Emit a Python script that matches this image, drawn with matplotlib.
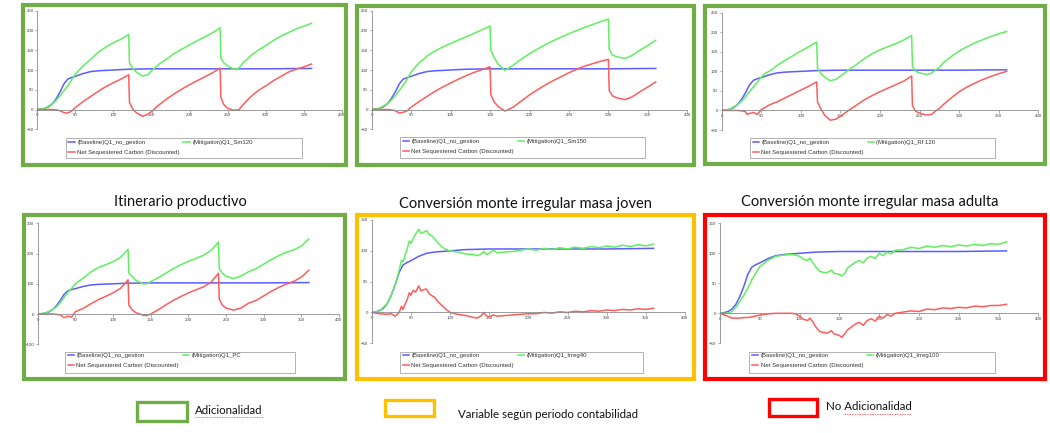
import matplotlib.pyplot as plt
from matplotlib.patches import Rectangle
from matplotlib.lines import Line2D

# Baseline (same no-management run in every panel)
base_x = [0, 5, 10, 15, 20, 25, 30, 35, 40, 45, 50, 60, 70, 80, 90, 100, 120, 150, 200, 250, 300, 360]
base_y = [0, 1, 3, 7, 15, 28, 45, 65, 77, 81, 84, 91, 96, 98, 99, 100, 102, 103, 103, 103, 103, 104]

# Q1_Sm120
sm120_x = [0, 10, 20, 25, 30, 35, 40, 45, 50, 60, 70, 80, 90, 100, 110, 120, 121, 125, 130, 138,
           145, 150, 160, 170, 180, 190, 200, 210, 220, 230, 240, 241, 245, 250, 258, 265, 270, 280, 290, 300,
           310, 320, 330, 340, 350, 360]
sm120_mit = [0, 3, 15, 24, 35, 48, 60, 75, 90, 110, 127, 145, 158, 169, 178, 190, 118, 105, 95, 85,
             88, 98, 115, 128, 142, 153, 164, 174, 184, 194, 207, 130, 118, 110, 102, 105, 118, 136, 150, 162,
             175, 186, 195, 204, 211, 218]
sm120_net = [0, 0, 0, -1, -3, -8, -9, -4, 5, 20, 33, 46, 58, 68, 77, 88, 18, 2, -8, -17,
             -12, -5, 12, 27, 40, 52, 63, 73, 83, 93, 105, 30, 12, 3, -2, 0, 12, 32, 48, 60,
             73, 84, 95, 102, 108, 115]

# Q1_Sm150
sm150_x = [0, 10, 20, 25, 30, 35, 40, 45, 50, 60, 70, 80, 90, 100, 110, 120, 130, 140, 150, 151,
           155, 160, 169, 180, 190, 200, 210, 220, 230, 240, 250, 260, 270, 280, 290, 300, 301, 305, 310, 321,
           330, 340, 350, 360]
sm150_mit = [0, 3, 15, 24, 35, 48, 62, 77, 95, 118, 135, 148, 158, 167, 176, 184, 193, 202, 211, 150,
             132, 115, 99, 113, 128, 141, 153, 164, 174, 183, 192, 200, 208, 215, 222, 229, 152, 138, 134, 129,
             137, 150, 162, 175]
sm150_net = [0, 0, 0, -1, -3, -9, -7, -3, 6, 20, 33, 46, 57, 67, 77, 86, 94, 101, 108, 38,
             20, 8, -4, 7, 22, 37, 50, 62, 73, 83, 93, 102, 110, 116, 122, 127, 48, 35, 30, 25,
             32, 45, 57, 70]

# Q1_Rf 120
rf120_x = [0, 10, 20, 25, 30, 32, 35, 40, 45, 50, 55, 60, 70, 80, 90, 100, 110, 120, 121, 125,
           130, 137, 145, 150, 155, 160, 170, 180, 190, 200, 210, 220, 230, 240, 241, 245, 250, 259, 265, 270,
           275, 280, 290, 300, 310, 320, 330, 340, 350, 360]
rf120_mit = [0, 3, 15, 24, 35, 40, 48, 60, 72, 85, 95, 100, 115, 128, 140, 152, 163, 175, 108, 95,
             85, 76, 80, 88, 95, 103, 117, 132, 145, 155, 163, 171, 180, 192, 112, 100, 96, 92, 95, 103,
             110, 122, 138, 152, 163, 173, 181, 189, 196, 202]
rf120_net = [0, 0, 0, -1, -3, -10, -8, -5, -10, 2, 8, 14, 22, 32, 42, 52, 62, 73, 22, 5,
             -12, -25, -22, -15, -8, 0, 13, 27, 38, 48, 57, 66, 75, 88, 12, -2, -7, -12, -10, -2,
             5, 15, 32, 48, 60, 70, 79, 87, 94, 100]

# Q1_PC
pc_x = [0, 10, 20, 25, 30, 35, 40, 45, 50, 60, 70, 80, 90, 100, 110, 120, 121, 125, 130, 140,
        145, 150, 160, 170, 180, 190, 200, 210, 220, 230, 240, 241, 245, 250, 260, 270, 280, 290, 300, 310,
        320, 330, 340, 350, 360]
pc_mit = [0, 3, 15, 24, 38, 55, 72, 85, 100, 118, 138, 153, 163, 173, 187, 214, 135, 125, 112, 100,
          100, 107, 120, 135, 150, 163, 174, 184, 194, 210, 238, 150, 135, 125, 117, 126, 140, 150, 165, 180,
          193, 204, 212, 225, 248]
pc_net = [0, 0, 0, -1, -3, -12, -7, -10, 8, 18, 33, 47, 58, 70, 85, 113, 30, 15, 5, -4,
          -5, 0, 14, 30, 45, 58, 70, 80, 90, 105, 135, 50, 30, 20, 13, 20, 36, 45, 60, 75,
          88, 99, 108, 122, 145]

# Q1_Irreg40
irr40_x = [0, 10, 20, 25, 30, 35, 38, 40, 42, 45, 48, 50, 53, 56, 60, 63, 66, 70, 73, 77,
           80, 85, 90, 95, 100, 110, 120, 130, 135, 140, 143, 147, 150, 155, 160, 170, 180, 190, 200, 210,
           220, 230, 240, 250, 260, 270, 280, 290, 300, 310, 320, 330, 340, 350, 360]
irr40_mit = [0, 2, 15, 28, 45, 68, 85, 82, 90, 102, 116, 112, 120, 127, 135, 128, 130, 133, 127, 124,
             120, 112, 106, 102, 100, 98, 95, 94, 92, 95, 99, 94, 96, 101, 97, 98, 99, 101, 103, 101,
             104, 102, 105, 103, 106, 104, 107, 105, 108, 106, 109, 107, 110, 108, 111]
irr40_net = [0, -2, -3, -2, -6, 0, 10, 5, 12, 20, 32, 28, 36, 33, 43, 35, 37, 38, 31, 27,
             25, 17, 11, 5, 0, -3, -5, -8, -9, -5, 0, -6, -7, -4, -6, -5, -4, -3, -2, -2,
             0, -1, 1, 0, 2, 1, 3, 2, 4, 3, 5, 4, 6, 5, 7]

# Q1_Irreg100
irr100_x = [0, 10, 15, 20, 25, 30, 35, 40, 50, 60, 70, 80, 90, 95, 100, 105, 110, 113, 117, 120,
            125, 130, 135, 140, 143, 150, 153, 157, 160, 165, 170, 175, 180, 185, 190, 195, 200, 205, 210, 215,
            220, 230, 240, 250, 260, 270, 280, 290, 300, 310, 320, 330, 340, 350, 360]
irr100_mit = [0, 0, 3, 10, 20, 30, 42, 56, 78, 88, 95, 97, 98, 97, 95, 90, 88, 92, 84, 78,
              70, 68, 68, 72, 67, 65, 62, 67, 75, 80, 85, 88, 84, 92, 95, 91, 100, 96, 102, 99,
              105, 106, 110, 108, 112, 110, 113, 111, 114, 112, 115, 113, 116, 115, 119]
irr100_net = [0, -5, -8, -8, -8, -7, -7, -6, -3, -1, 0, 0, 0, -1, -5, -10, -12, -8, -15, -22,
              -30, -32, -33, -29, -34, -37, -40, -34, -28, -23, -18, -15, -20, -12, -9, -13, -5, -8, -2, -5,
              0, 2, 4, 3, 7, 6, 9, 8, 10, 9, 12, 11, 13, 13, 15]

base_label = '(Baseline)Q1_no_gestion'
net_label = 'Net Sequestered Carbon (Discounted)'
titles = ['Itinerario productivo', 'Conversión monte irregular masa joven',
          'Conversión monte irregular masa adulta']
key_labels = ['Adicionalidad', 'Variable según periodo contabilidad', 'No Adicionalidad']

W, H = 1050, 433
fig = plt.figure(figsize=(10.5, 4.33), dpi=100)

def fig_rect(x0, y0, x1, y1):
    # pixel box (from top-left) -> figure fraction rect
    return [x0 / W, 1 - y1 / H, (x1 - x0) / W, (y1 - y0) / H]

def add_box(x0, y0, x1, y1, color, lw):
    r = fig_rect(x0, y0, x1, y1)
    fig.patches.append(Rectangle((r[0], r[1]), r[2], r[3], transform=fig.transFigure,
                                 fill=False, edgecolor=color, linewidth=lw))

GREEN, YELLOW, RED = '#70ad47', '#ffc000', '#ff0000'
C_BASE, C_MIT, C_NET = '#5c5cff', '#5ef05e', '#ff5c5c'

# (mit x, mit y, net y, mitigation label, axes px box, ylim, yticks, legend box px, frame px, frame colour)
panels = [
    (sm120_x, sm120_mit, sm120_net, '(Mitigation)Q1_Sm120', (37.3, 10.7, 342, 129.3), (-50, 250),
     [-50, 0, 50, 100, 150, 200, 250], (65.7, 138.3, 301.7, 158.3), (23, 5.3, 345.5, 164.7), GREEN),
    (sm150_x, sm150_mit, sm150_net, '(Mitigation)Q1_Sm150', (371.7, 10.7, 687.3, 129.3), (-50, 250),
     [-50, 0, 50, 100, 150, 200, 250], (400, 137.3, 645, 157.7), (357, 6, 694, 165), GREEN),
    (rf120_x, rf120_mit, rf120_net, '(Mitigation)Q1_Rf 120', (721.7, 12.7, 1038.3, 130), (-50, 250),
     [-50, 0, 50, 100, 150, 200, 250], (750, 138.3, 995, 158.3), (704.7, 5.7, 1045, 164.5), GREEN),
    (pc_x, pc_mit, pc_net, '(Mitigation)Q1_PC', (37.7, 223.3, 339, 344.3), (-100, 300),
     [-100, 0, 100, 200, 300], (65, 351.7, 295, 372.7), (24, 215, 345, 378.5), GREEN),
    (irr40_x, irr40_mit, irr40_net, '(Mitigation)Q1_Irreg40', (371.7, 220, 685, 343.3), (-50, 150),
     [-50, 0, 50, 100, 150], (400, 351.7, 643.3, 373.3), (357, 215.3, 694, 378.7), YELLOW),
    (irr100_x, irr100_mit, irr100_net, '(Mitigation)Q1_Irreg100', (720, 223.3, 1038.3, 343.3), (-50, 150),
     [-50, 0, 50, 100, 150], (749.3, 351.7, 995, 372.7), (704.7, 215.3, 1045, 379.3), RED),
]

for mx, mit, net, mit_label, apx, ylim, yticks, lbox, fpx, fcol in panels:
    ax = fig.add_axes(fig_rect(*apx))
    ax.patch.set_visible(False)
    l_base, = ax.plot(base_x, base_y, color=C_BASE, lw=1.1)
    l_mit, = ax.plot(mx, mit, color=C_MIT, lw=1.1)
    l_net, = ax.plot(mx, net, color=C_NET, lw=1.1)
    ax.set_xlim(0, 400)
    ax.set_ylim(*ylim)
    ax.set_xticks(range(0, 401, 50))
    ax.set_yticks(yticks)
    for s in ['top', 'right']:
        ax.spines[s].set_visible(False)
    ax.spines['bottom'].set_position(('data', 0))
    for s in ['left', 'bottom']:
        ax.spines[s].set_color('#8c8c8c')
        ax.spines[s].set_linewidth(0.6)
    ax.tick_params(direction='out', length=1.8, width=0.5, color='#8c8c8c',
                   labelsize=3.2, labelcolor='#444444', pad=0.8)
    for t in ax.get_xticklabels() + ax.get_yticklabels():
        t.set_fontfamily('Liberation Sans')

    leg = ax.legend([l_base, l_net, l_mit], [base_label, net_label, mit_label], ncol=2,
                    loc='upper left', bbox_to_anchor=((lbox[0] + 2.5) / W, 1 - (lbox[1] + 1.5) / H),
                    bbox_transform=fig.transFigure, frameon=False,
                    prop={'family': 'Liberation Sans', 'size': 4.3},
                    handlelength=1.1, handletextpad=0.4, columnspacing=0.6,
                    labelspacing=0.75, borderpad=0, borderaxespad=0)
    for t in leg.get_texts():
        t.set_color('#333333')
    add_box(*lbox, '#a6a6a6', 0.6)
    add_box(*fpx, fcol, 3.0)

# panel titles for the bottom row
for tx, ty, txt in [(180, 201.7, titles[0]), (525, 204, titles[1]), (870, 201.7, titles[2])]:
    fig.text(tx / W, 1 - ty / H, txt, ha='center', va='center', fontsize=10.5,
             family='Lato', color='#111111')

# colour key at the bottom
keys = [((136.5, 401.5, 186.5, 420.5), GREEN, (195, 411), key_labels[0]),
        ((384.5, 399.5, 433.5, 416), YELLOW, (458, 414), key_labels[1]),
        ((768.5, 398.5, 816.5, 416), RED, (826, 407), key_labels[2])]
for bx, col, (tx, ty), txt in keys:
    add_box(*bx, col, 2.4)
    fig.text(tx / W, 1 - ty / H, txt, ha='left', va='center', fontsize=8.3,
             family='Lato', color='#111111')

# spell-check squiggles under "Adicionalidad"
for x0, x1, y in [(195, 263, 417), (843, 911, 414)]:
    fig.add_artist(Line2D([x0 / W, x1 / W], [1 - y / H, 1 - y / H], transform=fig.transFigure,
                          color='#ff4040', lw=0.6, ls=(0, (1, 1))))

fig.savefig('out.png', dpi=100, facecolor='white')
